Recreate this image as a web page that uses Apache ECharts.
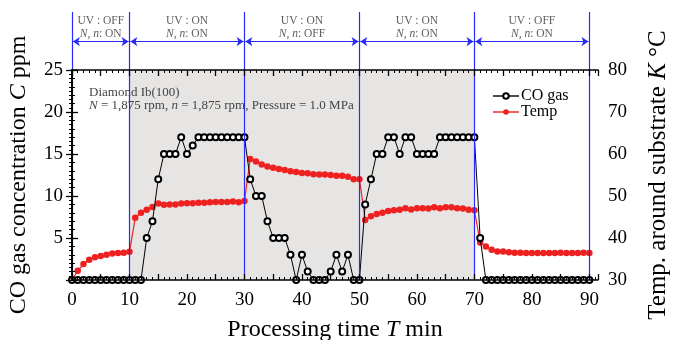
<!DOCTYPE html>
<html><head><meta charset="utf-8">
<script src="https://cdn.jsdelivr.net/npm/echarts@6/dist/echarts.min.js"></script>
<style>html,body{margin:0;padding:0;background:#fff}#c{width:674px;height:340px}</style>
</head><body><div id="c"></div>
<script>
const times = [0,1,2,3,4,5,6,7,8,9,10,11,12,13,14,15,16,17,18,19,20,21,22,23,24,25,26,27,28,29,30,
  31,32,33,34,35,36,37,38,39,40,41,42,43,44,45,46,47,48,49,50,51,52,53,54,55,56,57,58,59,60,
  61,62,63,64,65,66,67,68,69,70,71,72,73,74,75,76,77,78,79,80,81,82,83,84,85,86,87,88,89,90];
const coGas = [0,0,0,0,0,0,0,0,0,0,0,0,0,5,7,12,15,15,15,17,15,16,17,17,17,17,17,17,17,17,17,
  12,10,10,7,5,5,5,3,0,3,1,0,0,0,1,3,1,3,0,0,
  9,12,15,15,17,17,15,17,17,15,15,15,15,17,17,17,17,17,17,17,
  5,0,0,0,0,0,0,0,0,0,0,0,0,0,0,0,0,0,0,0];
const temp = [30.0,32.2,33.8,34.8,35.4,35.7,36.0,36.3,36.4,36.5,36.7,
  44.8,46.0,46.7,47.4,48.2,47.9,48.0,48.0,48.2,48.3,48.3,48.4,48.4,48.5,48.6,48.6,48.6,48.7,48.5,48.8,
  58.8,58.2,57.5,57.0,56.7,56.4,56.2,55.9,55.7,55.5,55.4,55.2,55.1,55.1,55.0,54.8,54.8,54.6,54.0,54.0,
  44.3,45.2,45.7,46.0,46.4,46.6,46.7,47.1,46.8,47.1,47.1,47.0,47.3,47.1,47.3,47.3,47.1,47.0,46.7,46.6,
  38.9,38.0,37.2,36.8,36.8,36.6,36.5,36.5,36.4,36.4,36.4,36.4,36.4,36.4,36.5,36.4,36.4,36.4,36.5,36.4];
const phaseBounds = [0,10,30,50,70,90];
const phaseUV = ['OFF','ON','ON','ON','OFF'];
const phaseNn = ['ON','ON','OFF','ON','ON'];
const shadedRange = [10,70];
const xLabelTicks = [0,10,20,30,40,50,60,70,80,90];

const FONT = "'Liberation Serif','Times New Roman',serif";
const BLUE = '#2a2aff';
const RED = '#ee2020';

const coData = times.map((t,i)=>[t,coGas[i]]);
const tempData = times.map((t,i)=>[t,temp[i]]);
const phaseLabels = phaseUV.map((uv,i)=>({
  value:[(phaseBounds[i]+phaseBounds[i+1])/2, 0.73],
  uv: uv, nn: phaseNn[i]
}));
const arrowLines = phaseUV.map((uv,i)=>[
  {coord:[phaseBounds[i]+0.15, 0.49]},
  {coord:[phaseBounds[i+1]-0.15, 0.49]}
]);
const vLines = phaseBounds.map(b=>({xAxis:b}));

const axisLineStyle = {color:'#000', width:1.5};
const blueLine = {color:BLUE, type:'solid', width:1.2};
const chart = echarts.init(document.getElementById('c'), null, {renderer:'canvas'});
chart.setOption({
  animation:false,
  backgroundColor:'#fff',
  textStyle:{fontFamily:FONT},
  title:{
    left:84, top:81,
    text:'{a|Diamond Ib(100)}\n{i|N}{a| = 1,875 rpm, }{i|n}{a| = 1,875 rpm, Pressure = 1.0 MPa}',
    textStyle:{fontFamily:FONT, fontWeight:'normal', fontSize:13, lineHeight:13, color:'#444',
      rich:{a:{fontFamily:FONT,fontSize:13,color:'#444',lineHeight:13},
            i:{fontFamily:FONT,fontSize:13,color:'#444',fontStyle:'italic',lineHeight:13}}}
  },
  legend:{
    orient:'vertical', left:487, top:83, itemGap:0, itemWidth:26, itemHeight:7,
    data:['CO gas','Temp'],
    lineStyle:{opacity:0.7},
    textStyle:{fontFamily:FONT, fontSize:16, color:'#000', lineHeight:12, padding:[0,0,0,-3]}
  },
  grid:[
    {left:72, right:76, top:70, bottom:60, outerBoundsMode:'none', containLabel:false},
    {left:72, right:76, top:12, height:58, outerBoundsMode:'none', containLabel:false}
  ],
  xAxis:[
    {gridIndex:0, type:'value', min:0, max:91.5, interval:5, position:'bottom', z:10,
     axisLine:{lineStyle:axisLineStyle},
     axisTick:{inside:true, length:6, lineStyle:{color:'#000', width:1.3}},
     minorTick:{show:true, splitNumber:5, length:3, lineStyle:{color:'#000', width:1}},
     splitLine:{show:false},
     axisLabel:{fontFamily:FONT, fontSize:19, color:'#000', margin:11,
       formatter:v=> xLabelTicks.indexOf(v)>=0 ? String(v) : ''},
     name:'Processing time {i|T} min', nameLocation:'middle', nameGap:38,
     nameTextStyle:{fontFamily:FONT, fontSize:24, color:'#000',
       rich:{i:{fontFamily:FONT,fontSize:24,fontStyle:'italic',color:'#000'}}}
    },
    {gridIndex:0, type:'value', min:0, max:91.5, interval:5, position:'top', z:10,
     axisLine:{lineStyle:axisLineStyle},
     axisTick:{inside:true, length:6, lineStyle:{color:'#000', width:1.3}},
     minorTick:{show:true, splitNumber:5, length:3, lineStyle:{color:'#000', width:1}},
     splitLine:{show:false}, axisLabel:{show:false}
    },
    {gridIndex:1, type:'value', min:0, max:91.5, show:false}
  ],
  yAxis:[
    {gridIndex:0, type:'value', min:0, max:25, interval:5, position:'left', z:10,
     axisLine:{show:true, lineStyle:axisLineStyle},
     axisTick:{show:true, inside:true, length:6, lineStyle:{color:'#000', width:1.3}},
     minorTick:{show:true, splitNumber:5, length:3, lineStyle:{color:'#000', width:1}},
     splitLine:{show:false},
     axisLabel:{fontFamily:FONT, fontSize:19, color:'#000', margin:9,
       formatter:v=> v===0 ? '' : String(v)},
     name:'CO gas concentration {i|C} ppm', nameLocation:'middle', nameGap:41, nameRotate:90,
     nameTextStyle:{fontFamily:FONT, fontSize:24, color:'#000',
       rich:{i:{fontFamily:FONT,fontSize:24,fontStyle:'italic',color:'#000'}}}
    },
    {gridIndex:0, type:'value', min:30, max:80, interval:10, position:'right', z:10,
     axisLine:{show:true, lineStyle:axisLineStyle},
     axisTick:{show:true, inside:true, length:6, lineStyle:{color:'#000', width:1.3}},
     minorTick:{show:true, splitNumber:10, length:3, lineStyle:{color:'#000', width:1}},
     splitLine:{show:false},
     axisLabel:{fontFamily:FONT, fontSize:19, color:'#000', margin:10},
     name:'Temp. around substrate {i|K} °C', nameLocation:'middle', nameGap:48, nameRotate:90,
     nameTextStyle:{fontFamily:FONT, fontSize:25, color:'#000',
       rich:{i:{fontFamily:FONT,fontSize:25,fontStyle:'italic',color:'#000'}}}
    },
    {gridIndex:1, type:'value', min:0, max:1, show:false}
  ],
  series:[
    {name:'shade', type:'line', xAxisIndex:0, yAxisIndex:0, data:[], z:1, silent:true,
     markArea:{silent:true, itemStyle:{color:'#e7e5e4'},
       data:[[{xAxis:shadedRange[0]},{xAxis:shadedRange[1]}]]}
    },
    {name:'Temp', type:'line', xAxisIndex:0, yAxisIndex:1, data:tempData, z:3,
     symbol:'circle', symbolSize:6.5, color:RED,
     itemStyle:{color:RED}, lineStyle:{color:RED, width:1.2},
     markLine:{silent:true, symbol:'none', label:{show:false}, lineStyle:blueLine, data:vLines}
    },
    {name:'CO gas', type:'line', xAxisIndex:0, yAxisIndex:0, data:coData, z:4,
     symbol:'emptyCircle', symbolSize:6, color:'#000',
     itemStyle:{color:'#000', borderWidth:1}, lineStyle:{color:'#000', width:1}
    },
    {name:'topLines', type:'line', xAxisIndex:2, yAxisIndex:2, data:[], silent:true,
     markLine:{silent:true, symbol:'none', label:{show:false}, lineStyle:blueLine, data:vLines}
    },
    {name:'phases', type:'scatter', xAxisIndex:2, yAxisIndex:2, data:phaseLabels, symbolSize:0, silent:true,
     label:{show:true, position:'inside',
       formatter:p=>'{a|UV : '+p.data.uv+'}\n{i|N}{a|, }{i|n}{a|: '+p.data.nn+'}',
       rich:{a:{fontFamily:FONT,fontSize:11.5,color:'#333',lineHeight:13},
             i:{fontFamily:FONT,fontSize:11.5,color:'#333',fontStyle:'italic',lineHeight:13}}},
     markLine:{silent:true, symbol:['arrow','arrow'], symbolSize:7, label:{show:false},
       lineStyle:blueLine, data:arrowLines}
    }
  ]
});
</script></body></html>
